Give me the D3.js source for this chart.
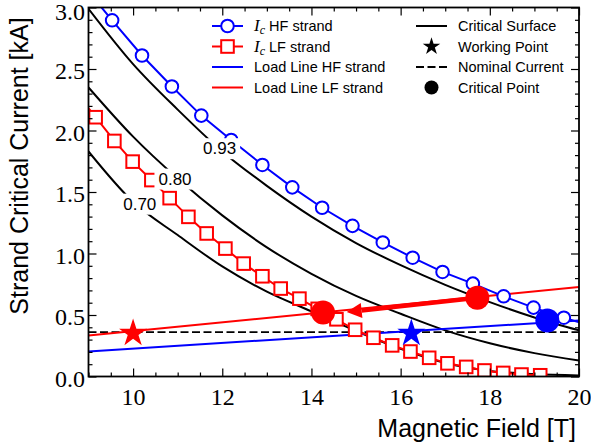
<!DOCTYPE html>
<html>
<head>
<meta charset="utf-8">
<script src="https://d3js.org/d3.v7.min.js"></script>
<style>
  body { margin: 0; background: #fff; }
  svg { display: block; }
  .tick text { font-family: "Liberation Serif", serif; font-size: 24px; fill: #000; }
  .tick line { stroke: #000; stroke-width: 1.2; }
  .ax-lab { font-family: "Liberation Sans", sans-serif; font-size: 25px; fill: #000; }
  .leg { font-family: "Liberation Sans", sans-serif; font-size: 14.5px; fill: #000; }
  .clab { font-family: "Liberation Sans", sans-serif; font-size: 17px; fill: #000; }
</style>
</head>
<body>
<svg width="591" height="447"></svg>
<script>

// ---- data ----
var hfField   = [8.86, 9.53, 10.20, 10.87, 11.53, 12.20, 12.90, 13.57, 14.24, 14.92, 15.60, 16.27, 16.94, 17.62, 18.31, 18.98, 19.66, 20.33];
var hfCurrent = [3.19, 2.896, 2.61, 2.358, 2.121, 1.923, 1.72, 1.538, 1.372, 1.225, 1.09, 0.966, 0.85, 0.755, 0.652, 0.56, 0.478, 0.405];

var lfField   = [8.74, 9.16, 9.58, 9.99, 10.41, 10.82, 11.24, 11.65, 12.07, 12.48, 12.90, 13.31, 13.73, 14.14, 14.56, 14.98, 15.39, 15.81, 16.22, 16.64, 17.05, 17.47, 17.88, 18.30, 18.71, 19.13];
var lfCurrent = [2.30, 2.108, 1.915, 1.747, 1.597, 1.45, 1.298, 1.163, 1.04, 0.918, 0.815, 0.715, 0.633, 0.55, 0.465, 0.38, 0.315, 0.253, 0.203, 0.152, 0.107, 0.078, 0.049, 0.029, 0.016, 0.01];

var surfaceField = [9, 10, 11, 12, 13, 14, 15, 16, 17, 18, 19, 20];
var surface093 = [2.99, 2.54, 2.17, 1.83, 1.55, 1.30, 1.085, 0.905, 0.745, 0.605, 0.48, 0.375];
var surface080 = [2.35, 1.95, 1.61, 1.31, 1.05, 0.835, 0.655, 0.51, 0.375, 0.27, 0.19, 0.13];
var surface070 = [1.83, 1.42, 1.15, 0.895, 0.69, 0.53, 0.37, 0.225, 0.11, 0.045, 0.02, 0.008];

var surfaceLabels  = ["0.93", "0.80", "0.70"];
var labelField     = [11.94, 10.94, 10.15];
var labelCurrent   = [1.857, 1.61, 1.406];

var loadField = [9, 20];
var loadHF    = [0.204, 0.456];
var loadLF    = [0.333, 0.728];

var nominalCurrent = 0.36;

var workHF = [16.24, 0.36];
var workLF = [10.0, 0.36];

var critHF = [[19.29, 0.456]];
var critLF = [[17.72, 0.64], [14.26, 0.52]];

var arrowFrom = [17.72, 0.64];
var arrowTo   = [14.79, 0.524];

var xTicks = [10, 12, 14, 16, 18, 20];
var yTicks = [0, 0.5, 1.0, 1.5, 2.0, 2.5, 3.0];

var legendLeft  = ["HF strand", "LF strand", "Load Line HF strand", "Load Line LF strand"];
var legendRight = ["Critical Surface", "Working Point", "Nominal Current", "Critical Point"];

// ---- layout ----
var svg = d3.select("svg");
var pL = 88.5, pR = 579, pT = 7.5, pB = 376.5;
var blue = "#0000ff", red = "#ff0000";

var x = d3.scaleLinear().domain([9, 20]).range([pL, pR]);
var y = d3.scaleLinear().domain([0, 3]).range([pB, pT]);

svg.append("defs").append("clipPath").attr("id", "plot")
  .append("rect").attr("x", pL).attr("y", pT)
  .attr("width", pR - pL).attr("height", pB - pT);

var plot = svg.append("g").attr("clip-path", "url(#plot)");

function zip(a, b) { return a.map(function(v, i) { return [v, b[i]]; }); }

var smooth = d3.line().x(function(d) { return x(d[0]); }).y(function(d) { return y(d[1]); })
    .curve(d3.curveMonotoneX);
var straight = d3.line().x(function(d) { return x(d[0]); }).y(function(d) { return y(d[1]); });

// critical surface
[surface093, surface080, surface070].forEach(function(s) {
  plot.append("path").datum(zip(surfaceField, s))
      .attr("d", smooth).attr("fill", "none")
      .attr("stroke", "#000").attr("stroke-width", 2);
});

// nominal current
plot.append("path").datum([[9, nominalCurrent], [20, nominalCurrent]])
    .attr("d", straight).attr("fill", "none").attr("stroke", "#000")
    .attr("stroke-width", 1.8).attr("stroke-dasharray", "8,3.5");

// load lines
plot.append("path").datum(zip(loadField, loadHF))
    .attr("d", straight).attr("stroke", blue).attr("stroke-width", 2);
plot.append("path").datum(zip(loadField, loadLF))
    .attr("d", straight).attr("stroke", red).attr("stroke-width", 2);

// Ic LF strand
var lf = zip(lfField, lfCurrent);
plot.append("path").datum(lf).attr("d", straight).attr("fill", "none")
    .attr("stroke", red).attr("stroke-width", 2);
plot.selectAll(".sq").data(lf).enter().append("rect")
    .attr("x", function(d) { return x(d[0]) - 6.3; })
    .attr("y", function(d) { return y(d[1]) - 6.3; })
    .attr("width", 12.6).attr("height", 12.6)
    .attr("fill", "#fff").attr("stroke", red).attr("stroke-width", 2);

// Ic HF strand
var hf = zip(hfField, hfCurrent);
plot.append("path").datum(hf).attr("d", straight).attr("fill", "none")
    .attr("stroke", blue).attr("stroke-width", 2);
plot.selectAll(".ci").data(hf).enter().append("circle")
    .attr("cx", function(d) { return x(d[0]); })
    .attr("cy", function(d) { return y(d[1]); })
    .attr("r", 6.3).attr("fill", "#fff").attr("stroke", blue).attr("stroke-width", 2);

// working points
var star = d3.symbol().type(d3.symbolStar).size(245);
[[workLF, red], [workHF, blue]].forEach(function(w) {
  plot.append("path").attr("d", star)
      .attr("transform", "translate(" + x(w[0][0]) + "," + (y(w[0][1]) + 1) + ")")
      .attr("fill", w[1]);
});

// arrow between the LF critical points
(function() {
  var x0 = x(arrowFrom[0]), y0 = y(arrowFrom[1]);
  var x1 = x(arrowTo[0]), y1 = y(arrowTo[1]);
  var dx = x1 - x0, dy = y1 - y0, len = Math.sqrt(dx * dx + dy * dy);
  var ux = dx / len, uy = dy / len, head = 15, hw = 7.5;
  var bx = x1 - ux * head, by = y1 - uy * head;
  plot.append("line").attr("x1", x0).attr("y1", y0).attr("x2", bx).attr("y2", by)
      .attr("stroke", red).attr("stroke-width", 4.5);
  plot.append("path")
      .attr("d", "M" + x1 + "," + y1 + "L" + (bx - uy * hw) + "," + (by + ux * hw) +
                 "L" + (bx + uy * hw) + "," + (by - ux * hw) + "Z")
      .attr("fill", red);
})();

// critical points
plot.selectAll(".cpl").data(critLF).enter().append("circle")
    .attr("cx", function(d) { return x(d[0]); }).attr("cy", function(d) { return y(d[1]); })
    .attr("r", 12).attr("fill", red);
plot.selectAll(".cph").data(critHF).enter().append("circle")
    .attr("cx", function(d) { return x(d[0]); }).attr("cy", function(d) { return y(d[1]); })
    .attr("r", 12).attr("fill", blue);

// contour labels, with a white box that hides what lies under them
surfaceLabels.forEach(function(t, i) {
  var g = plot.append("g");
  var bg = g.append("rect").attr("fill", "#fff");
  var tx = g.append("text").attr("class", "clab")
      .attr("x", x(labelField[i])).attr("y", y(labelCurrent[i]))
      .attr("dy", "0.36em").attr("text-anchor", "middle").text(t);
  var b = tx.node().getBBox();
  bg.attr("x", b.x - 4).attr("y", b.y - 1).attr("width", b.width + 8).attr("height", b.height + 2);
});

// ---- axes ----
function minor(step, lo, hi, major) {
  return d3.range(lo, hi + 1e-9, step).filter(function(v) {
    return !major.some(function(m) { return Math.abs(m - v) < 1e-6; });
  });
}
var xMinor = minor(0.5, 9, 20, xTicks);
var yMinor = minor(0.1, 0, 3, yTicks);

function axis(gen, scale, pos, vals, size, fmt, pad) {
  var g = svg.append("g").attr("transform", pos)
    .call(gen(scale).tickValues(vals).tickSize(-size).tickPadding(pad).tickFormat(fmt));
  g.select(".domain").remove();
  return g;
}
var none = function() { return ""; };
axis(d3.axisBottom, x, "translate(0," + pB + ")", xTicks, 8, d3.format("d"), 11);
axis(d3.axisBottom, x, "translate(0," + pB + ")", xMinor, 4, none, 0);
axis(d3.axisTop, x, "translate(0," + pT + ")", xTicks, 8, none, 0);
axis(d3.axisTop, x, "translate(0," + pT + ")", xMinor, 4, none, 0);
axis(d3.axisLeft, y, "translate(" + pL + ",0)", yTicks, 8, d3.format(".1f"), 3.5)
  .selectAll("text").attr("dy", function(d) { return d === 3 ? "0.52em" : "0.41em"; });
axis(d3.axisLeft, y, "translate(" + pL + ",0)", yMinor, 4, none, 0);
axis(d3.axisRight, y, "translate(" + pR + ",0)", yTicks, 8, none, 0);
axis(d3.axisRight, y, "translate(" + pR + ",0)", yMinor, 4, none, 0);
svg.selectAll(".tick text").attr("font-family", null).attr("font-size", null);

svg.append("rect").attr("x", pL).attr("y", pT)
   .attr("width", pR - pL).attr("height", pB - pT)
   .attr("fill", "none").attr("stroke", "#000").attr("stroke-width", 1.8);

svg.append("text").attr("class", "ax-lab")
   .attr("x", 576).attr("y", 437).attr("text-anchor", "end")
   .text("Magnetic Field [T]");
svg.append("text").attr("class", "ax-lab")
   .attr("transform", "translate(28,166) rotate(-90)").attr("text-anchor", "middle")
   .text("Strand Critical Current [kA]");

// ---- legend ----
var rows = [26, 46.5, 67, 87.5];
var lg = svg.append("g");
function handle(x0, yy, color, dash) {
  lg.append("line").attr("x1", x0).attr("x2", x0 + 31).attr("y1", yy).attr("y2", yy)
    .attr("stroke", color).attr("stroke-width", dash ? 1.8 : 2)
    .attr("stroke-dasharray", dash ? "8,3.5" : null);
}
handle(212, rows[0], blue);
lg.append("circle").attr("cx", 227.5).attr("cy", rows[0]).attr("r", 6.3)
  .attr("fill", "#fff").attr("stroke", blue).attr("stroke-width", 2);
handle(212, rows[1], red);
lg.append("rect").attr("x", 227.5 - 6.3).attr("y", rows[1] - 6.3).attr("width", 12.6).attr("height", 12.6)
  .attr("fill", "#fff").attr("stroke", red).attr("stroke-width", 2);
handle(212, rows[2], blue);
handle(212, rows[3], red);

legendLeft.forEach(function(t, i) {
  var tx = lg.append("text").attr("class", "leg").attr("x", 254).attr("y", rows[i] + 5);
  if (i < 2) {
    tx.append("tspan").attr("font-family", "Liberation Serif, serif").attr("font-style", "italic")
      .attr("font-size", "17px").text("I");
    tx.append("tspan").attr("font-family", "Liberation Serif, serif").attr("font-style", "italic")
      .attr("font-size", "12px").attr("dy", 3).text("c");
    tx.append("tspan").attr("dy", -3).text("\u00a0" + t);
  } else {
    tx.text(t);
  }
});

handle(416, rows[0], "#000");
lg.append("path").attr("d", d3.symbol().type(d3.symbolStar).size(95))
  .attr("transform", "translate(431.5," + rows[1] + ")").attr("fill", "#000");
handle(416, rows[2], "#000", true);
lg.append("circle").attr("cx", 431.5).attr("cy", rows[3]).attr("r", 7).attr("fill", "#000");

legendRight.forEach(function(t, i) {
  lg.append("text").attr("class", "leg").attr("x", 458).attr("y", rows[i] + 5).text(t);
});

</script>
</body>
</html>
